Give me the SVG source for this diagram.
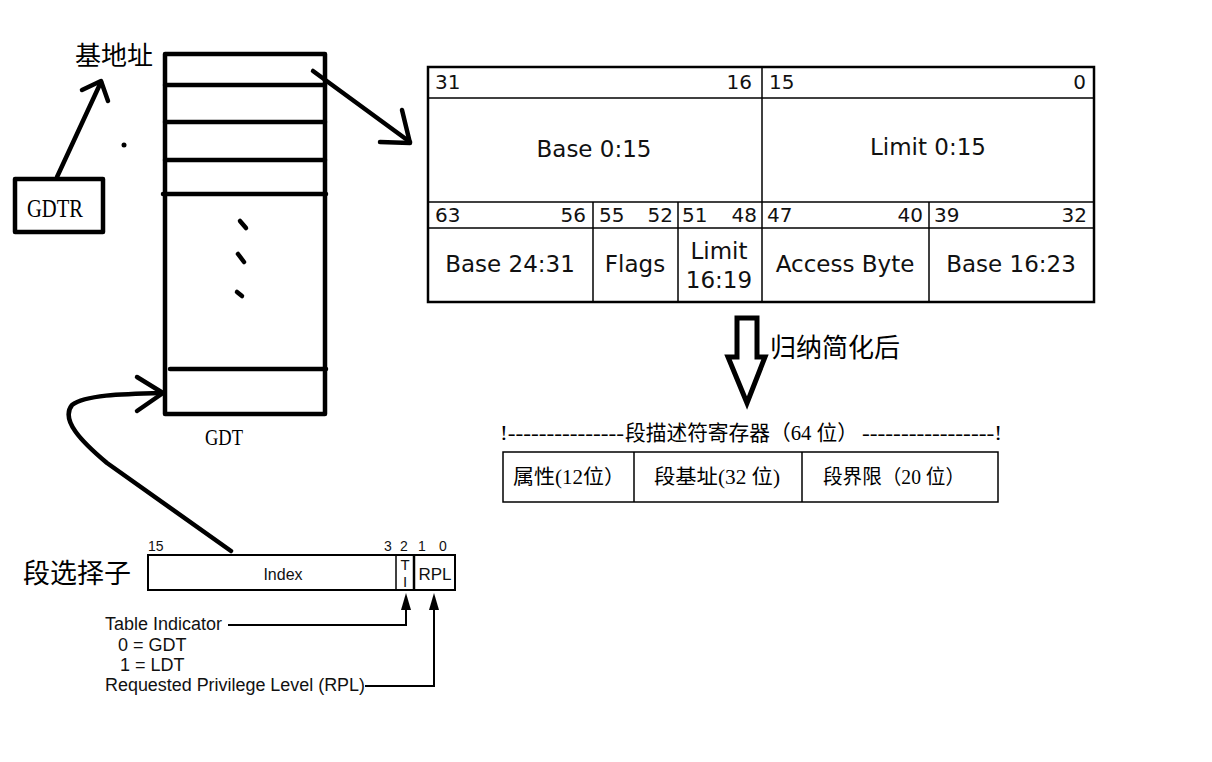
<svg xmlns="http://www.w3.org/2000/svg" width="1212" height="762" viewBox="0 0 1212 762">
<style>
.hand{fill:none;stroke:#000;stroke-width:4.5;stroke-linecap:round;stroke-linejoin:round}
.serif{font-family:"Liberation Serif","Noto Sans CJK SC",serif;fill:#000}
.cjk{font-family:"Noto Sans CJK SC",sans-serif;fill:#000}
.dj{font-family:"DejaVu Sans",sans-serif;fill:#111}
.ar{font-family:"Liberation Sans",Arial,sans-serif;fill:#111}
.thin{fill:none;stroke:#000;stroke-width:1.5}
.thick{fill:none;stroke:#000;stroke-width:2.5}
</style>
<rect width="1212" height="762" fill="#fff"/>

<g id="base-label"><text class="serif" x="75" y="65" font-size="26">基地址</text></g>

<g id="gdtr"><rect x="15" y="179" width="88" height="53" class="hand"/><text class="serif" x="27" y="217" font-size="25" textLength="56" lengthAdjust="spacingAndGlyphs">GDTR</text></g>

<g id="dot"><circle cx="124" cy="145" r="2.5" fill="#000"/></g>

<g id="gdt">
<rect x="165" y="54" width="160" height="360" class="hand"/>
<line x1="165" y1="85" x2="325" y2="85" class="hand"/>
<line x1="165" y1="122" x2="325" y2="122" class="hand"/>
<line x1="165" y1="160" x2="325" y2="160" class="hand"/>
<line x1="163" y1="194" x2="326" y2="194" class="hand"/>
<line x1="170" y1="369" x2="326" y2="369" class="hand"/>
<line x1="240" y1="221" x2="246" y2="228" class="hand"/>
<line x1="238" y1="254" x2="244" y2="262" class="hand"/>
<line x1="237" y1="292" x2="242" y2="296" class="hand"/>
<text class="serif" x="205" y="445" font-size="24" textLength="38" lengthAdjust="spacingAndGlyphs">GDT</text>
</g>

<g id="descriptor">
<rect x="428" y="67" width="666" height="235" class="thick"/>
<line x1="762" y1="67" x2="762" y2="302" class="thin"/>
<line x1="428" y1="98" x2="1094" y2="98" class="thin"/>
<line x1="428" y1="202" x2="1094" y2="202" class="thin"/>
<line x1="428" y1="228" x2="1094" y2="228" class="thin"/>
<line x1="593" y1="202" x2="593" y2="302" class="thin"/>
<line x1="678" y1="202" x2="678" y2="302" class="thin"/>
<line x1="929" y1="202" x2="929" y2="302" class="thin"/>
<g class="dj" font-size="20">
<text x="435" y="89">31</text><text x="752" y="89" text-anchor="end">16</text>
<text x="769" y="89">15</text><text x="1086" y="89" text-anchor="end">0</text>
<text x="435" y="222">63</text><text x="586" y="222" text-anchor="end">56</text>
<text x="599" y="222">55</text><text x="673" y="222" text-anchor="end">52</text>
<text x="682" y="222">51</text><text x="757" y="222" text-anchor="end">48</text>
<text x="767" y="222">47</text><text x="923" y="222" text-anchor="end">40</text>
<text x="934" y="222">39</text><text x="1087" y="222" text-anchor="end">32</text>
</g>
<g class="dj" font-size="23" text-anchor="middle">
<text x="594" y="157">Base 0:15</text>
<text x="928" y="155">Limit 0:15</text>
<text x="510" y="272">Base 24:31</text>
<text x="635" y="272">Flags</text>
<text x="719" y="259">Limit</text>
<text x="719" y="288">16:19</text>
<text x="845" y="272">Access Byte</text>
<text x="1011" y="272">Base 16:23</text>
</g>
</g>

<g id="simplify-arrow">
<path d="M737,318 L757,318 L757,357 L765,357 L747,403 L728,357 L737,357 Z" fill="none" stroke="#000" stroke-width="5" stroke-linejoin="miter"/>
<text class="cjk" x="770" y="357" font-size="26">归纳简化后</text>
</g>

<g id="register">
<text class="serif" x="500" y="440" font-size="20" textLength="124" lengthAdjust="spacingAndGlyphs">!---------------</text>
<text class="serif" x="625" y="440" font-size="21" textLength="233" lengthAdjust="spacingAndGlyphs">段描述符寄存器（64 位）</text>
<text class="serif" x="862" y="440" font-size="20" textLength="140" lengthAdjust="spacingAndGlyphs">-----------------!</text>
<rect x="503" y="452" width="495" height="50" class="thin"/>
<line x1="634" y1="452" x2="634" y2="502" class="thin"/>
<line x1="802" y1="452" x2="802" y2="502" class="thin"/>
<text class="serif" x="513" y="484" font-size="20" textLength="112" lengthAdjust="spacingAndGlyphs">属性(12位）</text>
<text class="serif" x="654" y="484" font-size="20" textLength="126" lengthAdjust="spacingAndGlyphs">段基址(32 位)</text>
<text class="serif" x="823" y="484" font-size="20" textLength="142" lengthAdjust="spacingAndGlyphs">段界限（20 位）</text>
</g>

<g id="selector">
<text class="serif" x="23" y="583" font-size="27">段选择子</text>
<rect x="148" y="555" width="307" height="35" fill="none" stroke="#000" stroke-width="2"/>
<line x1="396" y1="555" x2="396" y2="590" class="thin"/>
<line x1="414" y1="555" x2="414" y2="590" stroke="#000" stroke-width="2.5"/>
<g class="ar" font-size="14">
<text x="148" y="551">15</text>
<text x="384" y="551">3</text>
<text x="400" y="551">2</text>
<text x="418" y="551">1</text>
<text x="439" y="551">0</text>
</g>
<text class="ar" x="283" y="580" font-size="16" text-anchor="middle">Index</text>
<text class="ar" x="405" y="570" font-size="15" text-anchor="middle">T</text>
<text class="ar" x="405" y="587" font-size="15" text-anchor="middle">I</text>
<text class="ar" x="435" y="580" font-size="17" text-anchor="middle">RPL</text>
<g class="ar" font-size="18">
<text x="105" y="630" textLength="117" lengthAdjust="spacingAndGlyphs">Table Indicator</text>
<text x="118" y="651">0 = GDT</text>
<text x="120" y="671">1 = LDT</text>
<text x="105" y="691" textLength="260" lengthAdjust="spacingAndGlyphs">Requested Privilege Level (RPL)</text>
</g>
</g>

<g id="connectors">
<path d="M57,177 L101,82" class="hand"/>
<path d="M82,90 L101,81 L108,101" class="hand"/>
<path d="M313,71 L410,142" class="hand"/>
<path d="M380,142 L410,143 L402,110" class="hand"/>
<path d="M231,551 L107,463 C82,442 60,420 72,405 C85,395 120,394 162,393" class="hand"/>
<path d="M137,377 L163,393 L137,411" class="hand"/>
<path d="M228,625 L406,625 L406,600" fill="none" stroke="#000" stroke-width="2"/>
<path d="M406,593 L401,610 L411,610 Z" fill="#000"/>
<path d="M365,686 L434,686 L434,600" fill="none" stroke="#000" stroke-width="2"/>
<path d="M434,593 L429,610 L439,610 Z" fill="#000"/>
</g>
</svg>
